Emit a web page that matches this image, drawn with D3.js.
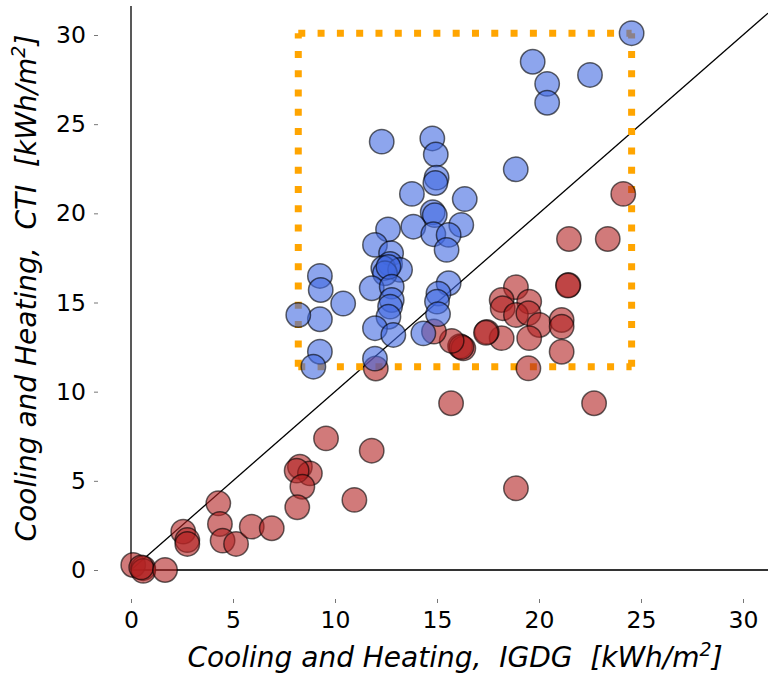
<!DOCTYPE html>
<html>
<head>
<meta charset="utf-8">
<script src="https://cdn.jsdelivr.net/npm/d3@7"></script>
<style>
  body { margin: 0; background: #fff; }
  svg { display: block; font-family: "DejaVu Sans", sans-serif; }
</style>
</head>
<body>
<div id="graph"></div>
<script>
// IGDG vs CTI, kWh/m2
const blueX = [24.54, 19.69, 22.5, 20.4, 20.4, 12.29, 14.77, 14.94, 18.86, 14.98, 14.92, 13.77,
  16.36, 14.79, 14.89, 13.84, 16.19, 14.82, 15.57, 15.47, 15.57, 15.07, 15.0, 15.05, 14.33,
  12.6, 11.96, 12.75, 12.7, 12.37, 13.19, 12.45, 12.62, 11.8, 12.78, 12.78, 12.7, 12.62,
  11.96, 12.86, 10.4, 11.96, 9.26, 9.3, 9.26, 9.26, 8.94, 8.2];
const blueY = [30.1, 28.5, 27.76, 27.26, 26.2, 24.02, 24.2, 23.3, 22.47, 22.0, 21.7, 21.09,
  20.8, 20.06, 19.9, 19.25, 19.35, 18.83, 18.79, 17.95, 16.08, 15.5, 15.05, 14.35, 13.27,
  19.1, 18.23, 17.76, 17.16, 16.92, 16.83, 16.64, 17.0, 15.8, 15.89, 15.14, 14.77, 14.2,
  13.56, 13.18, 14.94, 11.85, 16.49, 15.7, 14.06, 12.24, 11.4, 14.3];

const redX = [24.13, 21.47, 23.37, 21.44, 21.42, 18.87, 18.17, 18.22, 19.52, 18.87, 19.48, 20.02,
  19.52, 21.11, 21.11, 21.11, 18.17, 17.44, 17.4, 16.13, 16.29, 16.2, 15.72, 14.85, 19.48,
  12.0, 15.69, 22.7, 18.87, 9.56, 11.8, 8.28, 8.77, 8.12, 8.4, 8.15, 10.95, 4.28, 4.36,
  4.49, 5.15, 5.92, 6.9, 2.56, 2.76, 2.76, 0.11, 0.6, 0.6, 0.5, 1.67];
const redY = [21.09, 18.56, 18.56, 15.98, 15.95, 15.86, 15.14, 14.68, 15.05, 14.3, 14.4, 13.74,
  13.0, 14.02, 13.65, 12.24, 13.0, 13.35, 13.3, 12.55, 12.43, 12.5, 12.85, 13.37, 11.31,
  11.3, 9.35, 9.35, 4.58, 7.38, 6.69, 5.79, 5.42, 5.57, 4.67, 3.52, 3.93, 3.74, 2.58,
  1.65, 1.46, 2.43, 2.34, 2.15, 1.68, 1.46, 0.28, 0.1, -0.05, 0.15, 0.0];

const xTicks = [0, 5, 10, 15, 20, 25, 30];
const yTicks = [0, 5, 10, 15, 20, 25, 30];

const width = 768;
const height = 677;

let x = d3.scaleLinear().domain([0, 30]).range([131, 743]);
let y = d3.scaleLinear().domain([0, 30]).range([570, 35]);

const axLeft = 98, axBottom = 599, axTop = 6, axRight = width;
const xMax = x.invert(axRight);

let svg = d3.select("#graph")
  .append("svg")
  .attr("width", width)
  .attr("height", height);

svg.append("rect").attr("width", width).attr("height", height).attr("fill", "#fff");

// ticks, sitting on the outer box of the axes
let xAxis = svg.append("g")
  .attr("transform", "translate(0," + axBottom + ")")
  .call(d3.axisBottom(x).tickValues(xTicks).tickSize(4).tickPadding(8));
let yAxis = svg.append("g")
  .attr("transform", "translate(" + axLeft + ",0)")
  .call(d3.axisLeft(y).tickValues(yTicks).tickSize(4).tickPadding(8));

[xAxis, yAxis].forEach(function (a) {
  a.select(".domain").remove();
  a.selectAll(".tick line").attr("stroke", "#777").attr("stroke-width", 1);
  a.selectAll("text")
    .attr("fill", "#000")
    .style("font-family", "DejaVu Sans")
    .style("font-size", "23.5px");
});

// spines through zero
svg.append("line")
  .attr("x1", x(0)).attr("x2", x(0))
  .attr("y1", axTop).attr("y2", y(0))
  .attr("stroke", "#222").attr("stroke-width", 1.5);
svg.append("line")
  .attr("x1", x(0)).attr("x2", axRight)
  .attr("y1", y(0)).attr("y2", y(0))
  .attr("stroke", "#333").attr("stroke-width", 1.8);

// y = x reference line
svg.append("line")
  .attr("x1", x(0)).attr("y1", y(0))
  .attr("x2", x(xMax)).attr("y2", y(xMax))
  .attr("stroke", "#000").attr("stroke-width", 1.3);

// orange box round the blue points
const bx0 = d3.min(blueX), bx1 = d3.max(blueX);
const by0 = d3.min(blueY), by1 = d3.max(blueY);
const boxLines = [
  [bx0, by0, bx1, by0],
  [bx0, by1, bx1, by1],
  [bx0, by0, bx0, by1],
  [bx1, by0, bx1, by1]
];
svg.append("g").selectAll("line")
  .data(boxLines)
  .enter().append("line")
  .attr("x1", d => x(d[0])).attr("y1", d => y(d[1]))
  .attr("x2", d => x(d[2])).attr("y2", d => y(d[3]))
  .attr("stroke", "#FFA500")
  .attr("stroke-width", 7)
  .attr("stroke-dasharray", "7 12.3");

function dots(xs, ys, color) {
  svg.append("g").selectAll("circle")
    .data(xs.map((v, i) => [v, ys[i]]))
    .enter().append("circle")
    .attr("cx", d => x(d[0]))
    .attr("cy", d => y(d[1]))
    .attr("r", 12.2)
    .attr("fill", color)
    .attr("fill-opacity", 0.6)
    .attr("stroke", "#000")
    .attr("stroke-opacity", 0.6)
    .attr("stroke-width", 1.5);
}
dots(redX, redY, "#B22222");
dots(blueX, blueY, "#4169E1");

// axis labels
let xl = svg.append("text")
  .attr("x", 455).attr("y", 667)
  .attr("text-anchor", "middle")
  .attr("xml:space", "preserve")
  .style("font-family", "DejaVu Sans")
  .style("font-style", "italic")
  .style("font-size", "28px")
  .attr("fill", "#000");
xl.append("tspan").text("Cooling and Heating,  IGDG  [kWh/m");
xl.append("tspan").attr("dy", -11).style("font-size", "19px").text("2");
xl.append("tspan").attr("dy", 11).text("]");

let yl = svg.append("text")
  .attr("transform", "translate(36,288) rotate(-90)")
  .attr("text-anchor", "middle")
  .attr("xml:space", "preserve")
  .style("font-family", "DejaVu Sans")
  .style("font-style", "italic")
  .style("font-size", "28px")
  .attr("fill", "#000");
yl.append("tspan").text("Cooling and Heating,  CTI  [kWh/m");
yl.append("tspan").attr("dy", -11).style("font-size", "19px").text("2");
yl.append("tspan").attr("dy", 11).text("]");
</script>
</body>
</html>
